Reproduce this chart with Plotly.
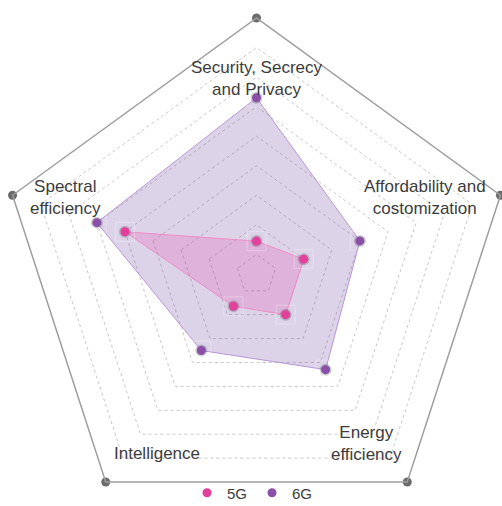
import plotly.graph_objects as go

# ---- data ----
categories = ["Security, Secrecy and Privacy", "Affordability and costomization",
              "Energy efficiency", "Intelligence", "Spectral efficiency"]
label_lines = [["Security, Secrecy", "and Privacy"], ["Affordability and", "costomization"],
               ["Energy", "efficiency"], ["Intelligence"], ["Spectral", "efficiency"]]
values_5g = [1.45, 2.0, 2.0, 1.65, 5.0]
values_6g = [6.3, 4.0, 4.3, 3.5, 6.0]
ring_values = [1, 2, 3, 4, 5, 6, 7, 8]
outer_value = 9
radial_min = 0.32

# ---- layout geometry (pixels) ----
W, H = 513, 543
ML, MR, MT, MB = 0, 0, 18, 12
PW, PH = W - ML - MR, H - MT - MB


def px(x, y):
    """pixel position (from top-left of page) -> paper coords"""
    return (x - ML) / PW, (H - MB - y) / PH


PINK = "#e2409b"
PURPLE = "#8a4fa7"
TEXT = "#3c3c3c"
FONT = "Liberation Sans, Arial, Helvetica, sans-serif"


def closed(v):
    return list(v) + [v[0]]


theta_c = closed(categories)

fig = go.Figure()

# 6G area
fig.add_trace(go.Scatterpolar(
    r=closed(values_6g), theta=theta_c, mode="lines", fill="toself",
    fillcolor="rgba(120,85,170,0.26)", line=dict(color="#b996d6", width=1),
    showlegend=False, hoverinfo="skip"))
# 5G area
fig.add_trace(go.Scatterpolar(
    r=closed(values_5g), theta=theta_c, mode="lines", fill="toself",
    fillcolor="rgba(230,50,160,0.20)", line=dict(color="#f08cc6", width=1),
    showlegend=False, hoverinfo="skip"))

# faint highlight squares and soft shadows around the points
for vals in (values_6g, values_5g):
    fig.add_trace(go.Scatterpolar(
        r=vals, theta=categories, mode="markers",
        marker=dict(symbol="square-open", size=19, color="rgba(255,255,255,0.3)",
                    line=dict(width=1)),
        showlegend=False, hoverinfo="skip"))
    fig.add_trace(go.Scatterpolar(
        r=vals, theta=categories, mode="markers",
        marker=dict(size=12, color="rgba(40,40,40,0.22)"),
        showlegend=False, hoverinfo="skip", cliponaxis=False))

# outer vertex dots
fig.add_trace(go.Scatterpolar(
    r=[outer_value] * len(categories), theta=categories, mode="markers",
    marker=dict(size=9, color="#6b6b6b"), cliponaxis=False,
    showlegend=False, hoverinfo="skip"))

# points
fig.add_trace(go.Scatterpolar(
    r=values_5g, theta=categories, mode="markers", name="5G",
    marker=dict(size=9, color=PINK), cliponaxis=False))
fig.add_trace(go.Scatterpolar(
    r=values_6g, theta=categories, mode="markers", name="6G",
    marker=dict(size=9, color=PURPLE), cliponaxis=False))

# axis labels (placed inside the frame, as in the reference)
label_pos = [(257, 78), (425, 197), (366.5, 443), (156.5, 453), (65, 197)]
annotations = []
for lines, (x, y) in zip(label_lines, label_pos):
    xp, yp = px(x, y)
    annotations.append(dict(
        text="<br>".join(lines), x=xp, y=yp, xref="paper", yref="paper",
        xanchor="center", yanchor="middle", showarrow=False, align="center",
        font=dict(family=FONT, size=17, color=TEXT)))

lx, ly = px(187, 493)
fig.update_layout(
    width=W, height=H,
    margin=dict(l=ML, r=MR, t=MT, b=MB),
    paper_bgcolor="white",
    polar=dict(
        domain=dict(x=[0, 1], y=[0, 1]),
        bgcolor="rgba(0,0,0,0)",
        gridshape="linear",
        radialaxis=dict(
            range=[radial_min, outer_value], tickvals=ring_values,
            showticklabels=False, ticks="", showline=False,
            showgrid=True, gridcolor="#c8c8c8", gridwidth=1, griddash="3px,3px"),
        angularaxis=dict(
            direction="clockwise", rotation=90, showticklabels=False, ticks="",
            showgrid=False, showline=True, linecolor="#9e9e9e", linewidth=1.5),
    ),
    annotations=annotations,
    legend=dict(orientation="h", x=lx, y=ly, xanchor="left", yanchor="middle",
                font=dict(family=FONT, size=15, color=TEXT),
                itemwidth=30, tracegroupgap=0, bgcolor="rgba(0,0,0,0)"),
)

post = ("var d=document.getElementById('{plot_id}');"
        "d.style.position='fixed';d.style.left='0px';d.style.top='0px';"
        "document.body.style.margin='0';document.body.style.overflow='hidden';"
        "document.documentElement.style.overflow='hidden';")
fig.write_html("out.html", post_script=post, config={"displayModeBar": False})
